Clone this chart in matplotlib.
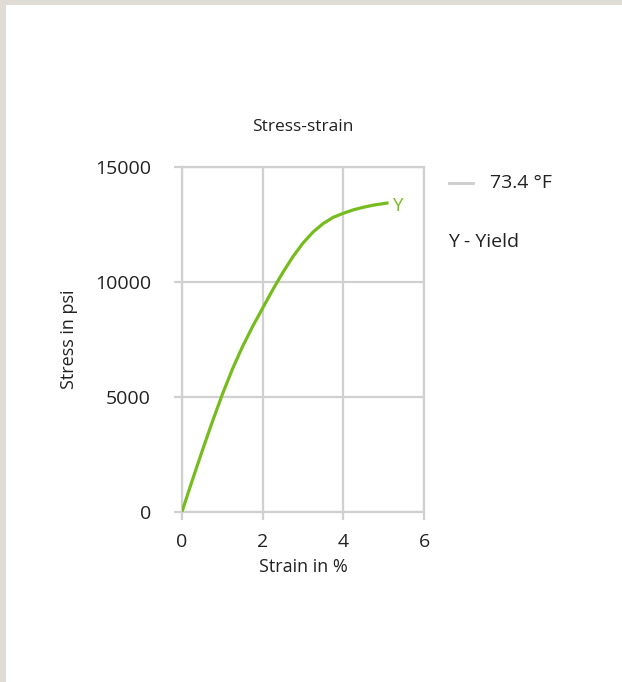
import matplotlib
matplotlib.use("Agg")
import matplotlib.pyplot as plt
from matplotlib.lines import Line2D
from matplotlib.patches import Rectangle

plt.rcParams['font.family'] = ['Open Sans', 'DejaVu Sans']

# Data
strain = [0, 0.25, 0.5, 0.75, 1.0, 1.25, 1.5, 1.75, 2.0, 2.25, 2.5, 2.75,
          3.0, 3.25, 3.5, 3.75, 4.0, 4.25, 4.5, 4.75, 5.12]
stress = [0, 1338, 2638, 3900, 5100, 6200, 7175, 8050, 8850, 9650, 10400, 11088,
          11680, 12160, 12530, 12800, 12975, 13125, 13238, 13330, 13430]
x_ticks = [0, 2, 4, 6]
y_ticks = [0, 5000, 10000, 15000]
series_label = "73.4 °F"
yield_mark = "Y"
yield_note = "Y - Yield"
title = "Stress-strain"
x_label = "Strain in %"
y_label = "Stress in psi"

W, H = 622, 682
fig = plt.figure(figsize=(W / 100, H / 100), dpi=100)
fig.patch.set_facecolor('#e0dbd4')
fig.patches.append(Rectangle((6 / W, 0), 1, (H - 5) / H, transform=fig.transFigure,
                             facecolor='white', edgecolor='none', zorder=-10))

grid_c = '#d0d0d0'
green = '#77bc1f'
text_c = '#222222'

ax = fig.add_axes([182 / W, (H - 511.7) / H, (424 - 182) / W, (511.7 - 166.7) / H])
ax.set_facecolor('none')
ax.plot(strain, stress, color=green, lw=2.3, solid_capstyle='butt',
        solid_joinstyle='round', zorder=3)
ax.annotate(yield_mark, xy=(strain[-1], stress[-1]), xytext=(3, -2),
            textcoords='offset points', ha='left', va='center',
            color=green, fontsize=13.5)

ax.set_xlim(0, 6)
ax.set_ylim(0, 15000)
ax.set_xticks(x_ticks)
ax.set_yticks(y_ticks)
ax.grid(True, color=grid_c, lw=1.6)
for s in ax.spines.values():
    s.set_color(grid_c)
    s.set_linewidth(1.6)
ax.tick_params(axis='both', direction='out', length=5.8, width=1.6, color=grid_c,
               labelcolor=text_c, labelsize=14)
ax.tick_params(axis='y', pad=16.5)
ax.tick_params(axis='x', pad=9.5)

ax.set_xlabel(x_label, fontsize=13, color=text_c, labelpad=5)
ax.set_ylabel(y_label, fontsize=13, color=text_c, labelpad=12)
ax.set_title(title, fontsize=12.5, color=text_c, pad=26)

fig.add_artist(Line2D([449 / W, 473 / W], [1 - 182.7 / H, 1 - 182.7 / H],
                      color='#cccccc', lw=2, transform=fig.transFigure))
fig.text(490 / W, 1 - 183 / H, series_label, fontsize=14, color=text_c,
         ha='left', va='center')
fig.text(448 / W, 1 - 242 / H, yield_note, fontsize=14, color=text_c,
         ha='left', va='center')

fig.savefig('out.png', dpi=100, facecolor=fig.get_facecolor())
